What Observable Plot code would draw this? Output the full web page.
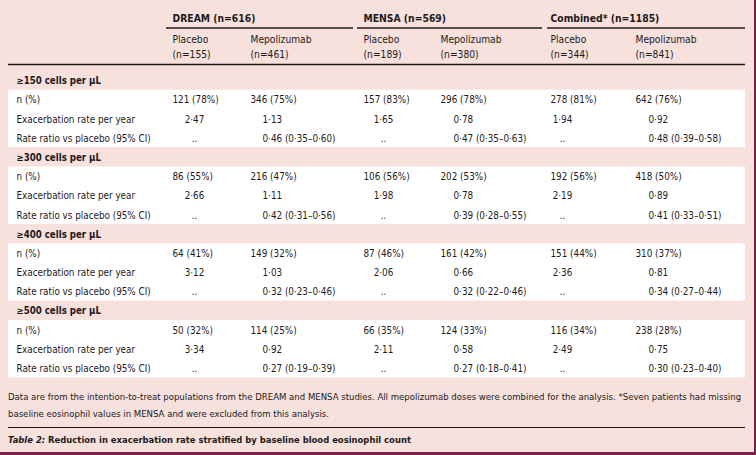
<!DOCTYPE html>
<html>
<head>
<meta charset="utf-8">
<script src="https://cdn.jsdelivr.net/npm/d3@7"></script>
<script src="https://cdn.jsdelivr.net/npm/@observablehq/plot@0.6"></script>
<style>
  html, body { margin: 0; padding: 0; background: #ffffff; }
  #wrap {
    position: relative; width: 756px; height: 455px; box-sizing: border-box;
    background: #f6e1dc; border-right: 2px solid #7b2147; border-bottom: 3px solid #7b2147;
    font-family: "DejaVu Sans Condensed", "DejaVu Sans", sans-serif;
    color: #1e1a1b; overflow: hidden;
  }
  #chart svg { display: block; }
  #foot { position: absolute; left: 8px; top: 388px; width: 745px; font-size: 9.5px; line-height: 17px; white-space: nowrap; }
  #rule { position: absolute; left: 8px; top: 427px; width: 737px; height: 0; border-top: 1.4px solid #1e1a1b; }
  #cap { position: absolute; left: 8px; top: 430.5px; font-size: 9.4px; line-height: 17px; font-weight: bold; white-space: nowrap; }
</style>
</head>
<body>
<div id="wrap">
  <div id="chart"></div>
  <div id="foot"></div>
  <div id="rule"></div>
  <div id="cap"></div>
</div>
<script>
// ---------- data ----------
const studies = ["DREAM (n=616)", "MENSA (n=569)", "Combined* (n=1185)"];
const arms = ["Placebo", "Mepolizumab", "Placebo", "Mepolizumab", "Placebo", "Mepolizumab"];
const armN = ["(n=155)", "(n=461)", "(n=189)", "(n=380)", "(n=344)", "(n=841)"];
const thresholds = ["≥150 cells per µL", "≥300 cells per µL", "≥400 cells per µL", "≥500 cells per µL"];
const rowLabels = ["n (%)", "Exacerbation rate per year", "Rate ratio vs placebo (95% CI)"];
const nPct = [
  ["121 (78%)", "346 (75%)", "157 (83%)", "296 (78%)", "278 (81%)", "642 (76%)"],
  ["86 (55%)", "216 (47%)", "106 (56%)", "202 (53%)", "192 (56%)", "418 (50%)"],
  ["64 (41%)", "149 (32%)", "87 (46%)", "161 (42%)", "151 (44%)", "310 (37%)"],
  ["50 (32%)", "114 (25%)", "66 (35%)", "124 (33%)", "116 (34%)", "238 (28%)"]
];
const rates = [
  ["2·47", "1·13", "1·65", "0·78", "1·94", "0·92"],
  ["2·66", "1·11", "1·98", "0·78", "2·19", "0·89"],
  ["3·12", "1·03", "2·06", "0·66", "2·36", "0·81"],
  ["3·34", "0·92", "2·11", "0·58", "2·49", "0·75"]
];
const ratios = [
  ["..", "0·46 (0·35–0·60)", "..", "0·47 (0·35–0·63)", "..", "0·48 (0·39–0·58)"],
  ["..", "0·42 (0·31–0·56)", "..", "0·39 (0·28–0·55)", "..", "0·41 (0·33–0·51)"],
  ["..", "0·32 (0·23–0·46)", "..", "0·32 (0·22–0·46)", "..", "0·34 (0·27–0·44)"],
  ["..", "0·27 (0·19–0·39)", "..", "0·27 (0·18–0·41)", "..", "0·30 (0·23–0·40)"]
];
const footnoteLines = [
  "Data are from the intention-to-treat populations from the DREAM and MENSA studies. All mepolizumab doses were combined for the analysis. *Seven patients had missing",
  "baseline eosinophil values in MENSA and were excluded from this analysis."
];
const captionLabel = "Table 2:";
const captionText = "Reduction in exacerbation rate stratified by baseline blood eosinophil count";

// ---------- layout (scale configuration) ----------
const armKeys = ["DP", "DM", "MP", "MM", "CP", "CM"];
const studyKeys = ["DP", "MP", "CP"];
const xLayout = {
  label: 16, L: 8, R: 745,
  DP: 172, DPv: 194, DM: 250, DMv: 262,
  MP: 363, MPv: 383, MM: 440, MMv: 453,
  CP: 550, CPv: 562, CM: 635, CMv: 648,
  D0: 166, D1: 353, M0: 357, M1: 542, C0: 547, C1: 745
};
const yKeys = ["study", "top", "arm", "armN", "sep"];
const yPos = [18, 27.5, 39, 54, 64];
const bodyKeys = [];
thresholds.forEach((t, g) => { bodyKeys.push(`g${g}`); rowLabels.forEach((l, r) => bodyKeys.push(`g${g}r${r}`)); });
bodyKeys.forEach((k, i) => { yKeys.push(k); yPos.push(80.5 + 19.2 * i); });

// ---------- cells ----------
const labelCells = [], nCells = [], valStart = [], valMid = [];
thresholds.forEach((t, g) => {
  rowLabels.forEach((lab, r) => labelCells.push({x: "label", y: `g${g}r${r}`, text: lab}));
  armKeys.forEach((k, c) => {
    nCells.push({x: k, y: `g${g}r0`, text: nPct[g][c]});
    const target = k.endsWith("P") ? valMid : valStart;
    target.push({x: k + "v", y: `g${g}r1`, text: rates[g][c]});
    target.push({x: k + "v", y: `g${g}r2`, text: ratios[g][c]});
  });
});
const headCells = thresholds.map((t, g) => ({x: "label", y: `g${g}`, text: t}));
const studyCells = studies.map((s, i) => ({x: studyKeys[i], y: "study", text: s}));
const armCells = arms.map((a, i) => ({x: armKeys[i], y: "arm", text: a}))
  .concat(armN.map((a, i) => ({x: armKeys[i], y: "armN", text: a})));
const studyLines = [{x1: "D0", x2: "D1"}, {x1: "M0", x2: "M1"}, {x1: "C0", x2: "C1"}];

const ink = "#1e1a1b";
const fs = 9.8;
const chart = Plot.plot({
  width: 754, height: 385,
  margin: 0,
  x: {type: "ordinal", domain: Object.keys(xLayout), range: Object.values(xLayout), axis: null},
  y: {type: "ordinal", domain: yKeys, range: yPos, axis: null},
  style: {background: "transparent", fontFamily: '"DejaVu Sans Condensed", "DejaVu Sans", sans-serif', color: ink},
  marks: [
    Plot.rect(thresholds, {x1: () => "L", x2: () => "R", y1: (d, g) => `g${g}r0`, y2: (d, g) => `g${g}r2`, insetTop: -10, insetBottom: -9, fill: "#ffffff"}),
    Plot.ruleY(studyLines, {y: () => "top", x1: "x1", x2: "x2", stroke: ink, strokeWidth: 1.4}),
    Plot.ruleY(["sep"], {y: d => d, x1: () => "L", x2: () => "R", stroke: ink, strokeWidth: 1.4}),
    Plot.text(studyCells, {x: "x", y: "y", text: "text", textAnchor: "start", fontWeight: "bold", fontSize: 10.3, fill: ink}),
    Plot.text(armCells, {x: "x", y: "y", text: "text", textAnchor: "start", fontSize: 10.2, fill: ink}),
    Plot.text(headCells, {x: "x", y: "y", text: "text", textAnchor: "start", fontWeight: "bold", fontSize: 9.6, fill: ink}),
    Plot.text(labelCells, {x: "x", y: "y", text: "text", textAnchor: "start", fontSize: fs, fill: ink}),
    Plot.text(nCells, {x: "x", y: "y", text: "text", textAnchor: "start", fontSize: fs, fill: ink}),
    Plot.text(valStart, {x: "x", y: "y", text: "text", textAnchor: "start", fontSize: fs, fill: ink}),
    Plot.text(valMid, {x: "x", y: "y", text: "text", textAnchor: "middle", fontSize: fs, fill: ink})
  ]
});
document.getElementById("chart").append(chart);

const foot = document.getElementById("foot");
footnoteLines.forEach(l => { const d = document.createElement("div"); d.textContent = l; foot.append(d); });
const cap = document.getElementById("cap");
const em = document.createElement("i"); em.textContent = captionLabel + " ";
cap.append(em, document.createTextNode(captionText));
</script>
</body>
</html>
